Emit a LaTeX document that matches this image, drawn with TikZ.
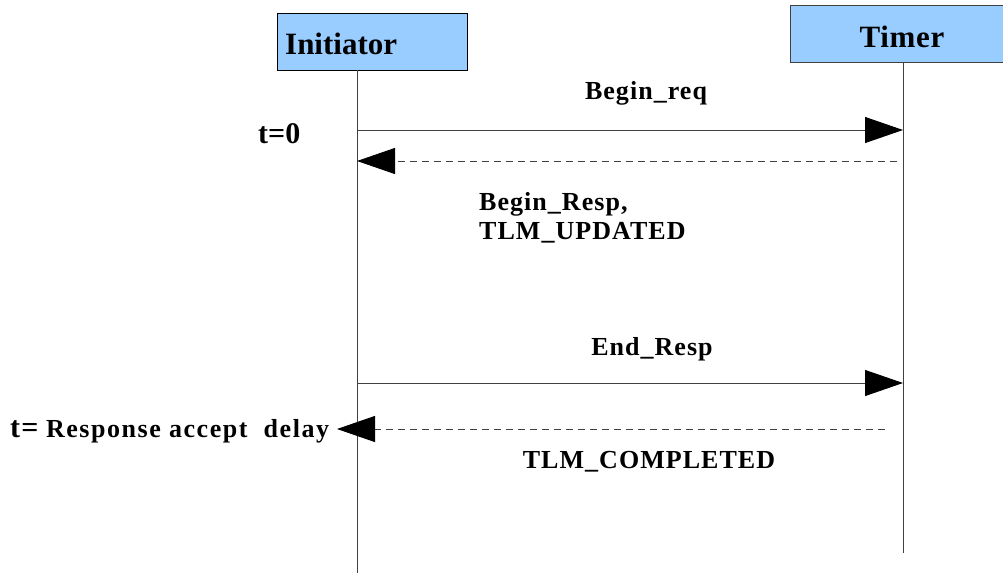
\documentclass[tikz,border=0pt]{standalone}
\usepackage{fontspec}
\setmainfont{Liberation Serif}
\usetikzlibrary{arrows.meta}
\definecolor{boxblue}{HTML}{99CCFF}
\definecolor{linegray}{HTML}{404040}
\begin{document}
\begin{tikzpicture}[x=1pt,y=-1pt,
  actor/.style={draw=black, line width=1.2pt, fill=boxblue, inner sep=0pt, anchor=north west},
  head/.style={font=\bfseries\fontsize{31}{36}\selectfont, inner sep=0pt},
  lifeline/.style={draw=linegray, line width=1pt},
  msg/.style={draw=linegray, line width=1pt, -{Triangle[length=38pt,width=26pt,black]}},
  reply/.style={msg, dash pattern=on 7pt off 5pt},
  lbl/.style={font=\bfseries\fontsize{26}{29}\selectfont\addfontfeature{LetterSpace=4}, inner sep=0pt},
  big/.style={font=\bfseries\fontsize{30}{34}\selectfont, inner sep=0pt}]
\useasboundingbox (0,0) rectangle (1003,573);

% participant boxes
\node[actor, minimum width=190pt, minimum height=57pt] (init) at (277,13) {};
\node[head, anchor=base west] (initName) at (285,54) {Initiator};
\node[actor, draw=linegray, minimum width=240pt, minimum height=57pt] (timer) at (790,5) {};
\node[head, anchor=base] (timerName) at (902,47) {\addfontfeature{LetterSpace=2}Timer};

% lifelines
\coordinate (iTop) at (357,70);
\coordinate (iBot) at (357,573);
\coordinate (tTop) at (903,62);
\coordinate (tBot) at (903,553);
\draw[lifeline] (iTop) -- (iBot);
\draw[lifeline] (tTop) -- (tBot);

% message end points
\coordinate (m1s) at (357,130);  \coordinate (m1e) at (903,130);
\coordinate (m2s) at (897,161);  \coordinate (m2e) at (357,161);
\coordinate (m3s) at (357,383);  \coordinate (m3e) at (903,383);
\coordinate (m4s) at (885,429);  \coordinate (m4e) at (337,429);

% messages
\draw[msg] (m1s) -- (m1e);
\draw[reply] (m2s) -- (m2e);
\draw[msg] (m3s) -- (m3e);
\draw[reply] (m4s) -- (m4e);

% labels
\node[lbl, anchor=base] (l1) at (646,99) {Begin\_req};
\node[big, anchor=base west] (t0) at (258,143) {t=0};
\node[lbl, anchor=base west] (l2a) at (479,210) {Begin\_Resp,};
\node[lbl, anchor=base west] (l2b) at (479,239) {TLM\_UPDATED};
\node[lbl, anchor=base] (l3) at (652,355) {End\_Resp};
\node[lbl, anchor=base west] (tr) at (10,437) {{\fontsize{30}{34}\selectfont t=} {\addfontfeature{LetterSpace=6}Response accept\ \ delay}};
\node[lbl, anchor=base] (l4) at (649,468) {TLM\_COMPLETED};
\end{tikzpicture}
\end{document}
